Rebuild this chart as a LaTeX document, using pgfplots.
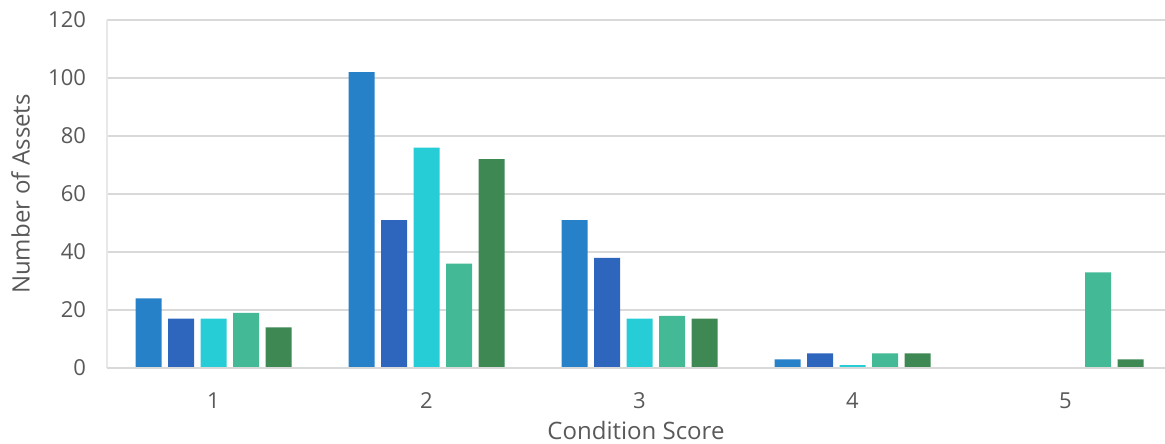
\documentclass[border=0pt]{standalone}
\usepackage{fontspec}
\setmainfont{Open Sans}
\usepackage{pgfplots}
\pgfplotsset{compat=1.18}

\definecolor{sA}{HTML}{2681C8}
\definecolor{sB}{HTML}{2E66BD}
\definecolor{sC}{HTML}{27CDD6}
\definecolor{sD}{HTML}{43B995}
\definecolor{sE}{HTML}{3D8853}
\definecolor{txt}{HTML}{595959}
\definecolor{grd}{HTML}{D9D9D9}

\begin{document}
\begin{tikzpicture}
  \begin{axis}[
      name=ax,
      scale only axis,
      width=529pt, height=174pt,
      xmin=0.5, xmax=5.467,
      ymin=0, ymax=120,
      ytick={0,20,...,120},
      xtick={1,2,3,4,5},
      ybar=3.25pt, bar width=13pt,
      ymajorgrids=true,
      grid style={grd, line width=0.9pt},
      axis line style={draw=none},
      major tick length=0pt,
      tick label style={font=\fontsize{11}{13}\selectfont, text=txt},
      label style={font=\fontsize{12}{14}\selectfont, text=txt},
      /pgf/number format/assume math mode=true,
      yticklabel style={xshift=-7pt},
      xticklabel style={yshift=-9pt},
      xlabel={Condition Score},
      ylabel={Number of Assets},
      xlabel style={at={(axis description cs:0.5,0)}, anchor=north, yshift=-23pt},
      ylabel style={at={(axis description cs:0,0.5)}, anchor=south, yshift=35pt},
      every axis plot/.append style={draw=none},
      clip=false,
    ]
    \addplot[fill=sA] coordinates {(1,24) (2,102) (3,51) (4,3)};
    \addplot[fill=sB] coordinates {(1,17) (2,51) (3,38) (4,5)};
    \addplot[fill=sC] coordinates {(1,17) (2,76) (3,17) (4,1)};
    \addplot[fill=sD] coordinates {(1,19) (2,36) (3,18) (4,5) (5,33)};
    \addplot[fill=sE] coordinates {(1,14) (2,72) (3,17) (4,5) (5,3)};
    \draw[color=grd!60, line width=0.9pt] (axis cs:0.5,0) -- (axis cs:0.5,120);
    \draw[color=grd, line width=0.9pt] (axis cs:0.5,0) -- (axis cs:5.467,0);
  \end{axis}
  \pgfresetboundingbox
  \path[use as bounding box] ([xshift=-53.5pt,yshift=-38pt]ax.south west) rectangle ([yshift=184pt]ax.south east);
\end{tikzpicture}
\end{document}
